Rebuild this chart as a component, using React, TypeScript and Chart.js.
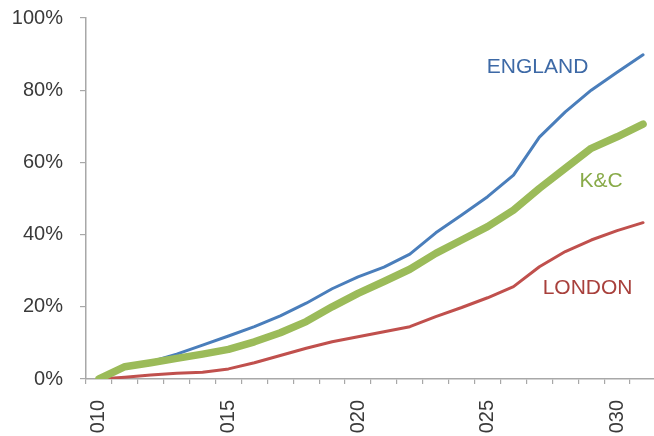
import React, { useEffect, useRef } from "react";
import { Chart, registerables } from "chart.js";

Chart.register(...registerables);

// Years on the category axis
const years = [
  "2010", "2011", "2012", "2013", "2014", "2015", "2016", "2017", "2018", "2019", "2020",
  "2021", "2022", "2023", "2024", "2025", "2026", "2027", "2028", "2029", "2030", "2031",
];

// Cumulative share (%) per year
const england = [0, 3.0, 4.8, 6.9, 9.4, 11.9, 14.5, 17.5, 21.0, 25.0, 28.3, 31.0, 34.6, 40.5, 45.4, 50.5, 56.5, 67.0, 74.0, 80.0, 85.0, 89.8];
const kc = [0, 3.4, 4.5, 5.7, 6.9, 8.2, 10.3, 12.8, 15.9, 20.0, 23.7, 27.0, 30.4, 34.8, 38.5, 42.2, 46.8, 52.8, 58.4, 63.9, 67.1, 70.6];
const london = [0, 0.5, 1.1, 1.6, 1.9, 2.8, 4.5, 6.5, 8.5, 10.3, 11.7, 13.1, 14.5, 17.3, 19.8, 22.5, 25.6, 31.1, 35.3, 38.5, 41.1, 43.3];

// Value axis ticks
const yTicks = [0, 20, 40, 60, 80, 100];

// Series names written beside the lines
const seriesNames = ["ENGLAND", "K&C", "LONDON"];

const FONT = '"Liberation Sans", Arial, sans-serif';
const AXIS_GREY = "#a8a8a8";

// Where each series name sits, in axis units (category index, percent)
const nameAnchors = [
  { x: 16.93, y: 86.3, color: "#3d69a6" },
  { x: 19.38, y: 54.7, color: "#88aa48" },
  { x: 18.86, y: 25.2, color: "#a8403c" },
];

const seriesNamePlugin = {
  id: "seriesNames",
  afterDatasetsDraw(chart: any) {
    const { ctx } = chart;
    const xs = chart.scales.x;
    const ys = chart.scales.y;
    ctx.save();
    ctx.font = `21px ${FONT}`;
    ctx.textAlign = "center";
    ctx.textBaseline = "middle";
    seriesNames.forEach((name, i) => {
      const a = nameAnchors[i];
      ctx.fillStyle = a.color;
      ctx.fillText(name, xs.getPixelForValue(a.x), ys.getPixelForValue(a.y));
    });
    ctx.restore();
  },
};

const CANVAS_W = 660;
const CANVAS_H = 470;

// Drop the extra room Chart.js reserves for overhanging tick labels
const noLabelOverhang = (scale: any) => {
  scale.paddingLeft = 0;
  scale.paddingRight = 0;
  scale.paddingTop = 0;
  scale.paddingBottom = 0;
};

export default function App() {
  const canvasRef = useRef<HTMLCanvasElement | null>(null);

  useEffect(() => {
    if (!canvasRef.current) return;
    const lineCommon = {
      pointRadius: 0,
      pointHoverRadius: 0,
      tension: 0,
      fill: false,
      borderCapStyle: "round" as const,
      borderJoinStyle: "round" as const,
    };
    const chart = new Chart(canvasRef.current, {
      type: "line",
      data: {
        labels: years,
        datasets: [
          { label: seriesNames[0], data: england, borderColor: "#4a7ebb", borderWidth: 3, order: 1, ...lineCommon },
          { label: seriesNames[1], data: kc, borderColor: "#9bbb59", borderWidth: 7.5, order: 0, ...lineCommon },
          { label: seriesNames[2], data: london, borderColor: "#c0504d", borderWidth: 3, order: 2, ...lineCommon },
        ],
      },
      options: {
        animation: false,
        responsive: false,
        events: [],
        layout: { padding: { left: 0, top: 18, right: 4, bottom: 0 } },
        plugins: {
          legend: { display: false },
          tooltip: { enabled: false },
          title: { display: false },
        },
        scales: {
          x: {
            type: "category",
            offset: true,
            grid: {
              offset: true,
              drawOnChartArea: false,
              drawTicks: true,
              tickLength: 5,
              color: AXIS_GREY,
              lineWidth: 1.2,
            },
            border: { display: true, color: AXIS_GREY, width: 1.5 },
            ticks: {
              autoSkip: false,
              minRotation: 90,
              maxRotation: 90,
              padding: 16,
              color: "#3a3a3a",
              font: { family: FONT, size: 20 },
              callback: (_v: any, i: number) => (i % 5 === 0 ? years[i] : ""),
            },
            afterFit: (scale: any) => {
              scale.height = CANVAS_H - 379;
              noLabelOverhang(scale);
            },
          },
          y: {
            type: "linear",
            min: 0,
            max: 100,
            afterBuildTicks: (scale: any) => {
              scale.ticks = yTicks.map((v) => ({ value: v }));
            },
            grid: {
              drawOnChartArea: false,
              drawTicks: true,
              tickLength: 6,
              color: AXIS_GREY,
              lineWidth: 1.2,
            },
            border: { display: true, color: AXIS_GREY, width: 1.5 },
            ticks: {
              padding: 17,
              color: "#3a3a3a",
              font: { family: FONT, size: 20 },
              callback: (v: any) => `${v}%`,
            },
            afterFit: (scale: any) => {
              scale.width = 86;
              noLabelOverhang(scale);
            },
          },
        },
      },
      plugins: [seriesNamePlugin],
    });
    return () => chart.destroy();
  }, []);

  return (
    <div
      style={{
        position: "fixed",
        left: 0,
        top: 0,
        width: 654,
        height: 433,
        overflow: "hidden",
        background: "#ffffff",
      }}
    >
      <canvas
        ref={canvasRef}
        width={CANVAS_W}
        height={CANVAS_H}
        style={{ display: "block", width: CANVAS_W, height: CANVAS_H }}
      />
    </div>
  );
}
